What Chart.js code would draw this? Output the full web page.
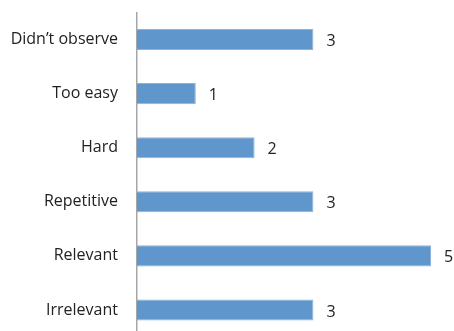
<!DOCTYPE html>
<html>
<head>
<meta charset="utf-8">
<script src="https://cdn.jsdelivr.net/npm/chart.js@4/dist/chart.umd.min.js"></script>
<style>
  html, body { margin: 0; padding: 0; background: #fff; overflow: hidden; }
</style>
</head>
<body>
<canvas id="myChart" width="454" height="337"></canvas>
<script>
// answers per category
var categories = ["Didn\u2019t observe", "Too easy", "Hard", "Repetitive", "Relevant", "Irrelevant"];
var counts = [3, 1, 2, 3, 5, 3];

// writes the count just right of each bar
var valueLabels = {
  id: "valueLabels",
  afterDatasetsDraw: function(chart) {
    var ctx = chart.ctx;
    var meta = chart.getDatasetMeta(0);
    ctx.save();
    ctx.font = "16px 'Open Sans'";
    ctx.fillStyle = "#222";
    ctx.textBaseline = "middle";
    ctx.textAlign = "left";
    meta.data.forEach(function(bar, i) {
      ctx.fillText(String(counts[i]), bar.x + 13, bar.y + 2);
    });
    ctx.restore();
  }
};

new Chart("myChart", {
  type: "bar",
  data: {
    labels: categories,
    datasets: [{
      data: counts,
      backgroundColor: "#5f96cc",
      borderColor: "#8db3da",
      borderWidth: 1,
      barPercentage: 0.39,
      categoryPercentage: 1
    }]
  },
  options: {
    indexAxis: "y",
    responsive: false,
    animation: false,
    layout: { padding: { top: 12.5, right: 23, bottom: 0, left: 0 } },
    plugins: {
      legend: { display: false },
      tooltip: { enabled: false }
    },
    scales: {
      x: {
        display: false,
        min: 0,
        max: 5
      },
      y: {
        grid: { display: false, drawTicks: false },
        border: { display: true, color: "#a6a6a6", width: 1.5 },
        ticks: {
          color: "#222",
          padding: 19,
          font: { family: "'Open Sans'", size: 16 }
        },
        afterFit: function(scale) {
          scale.width = 137;
          scale.paddingTop = 0;
          scale.paddingBottom = 0;
        }
      }
    }
  },
  plugins: [valueLabels]
});
</script>
</body>
</html>
